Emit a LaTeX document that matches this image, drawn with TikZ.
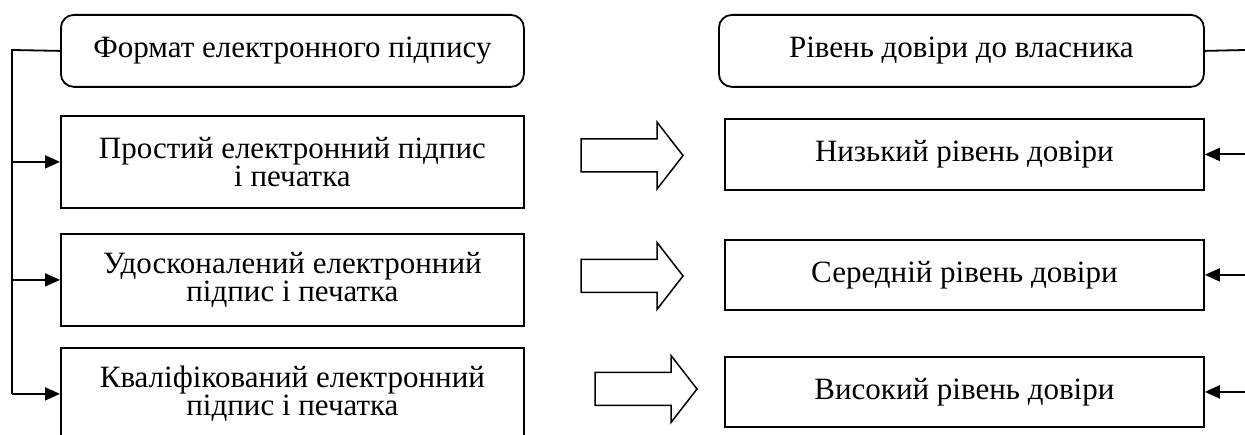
\documentclass[tikz,border=0pt]{standalone}
\usepackage{fontspec}
\setmainfont{Liberation Serif}
\usetikzlibrary{arrows.meta}
\begin{document}
\begin{tikzpicture}[x=1pt,y=-1pt,
  box/.style={draw, line width=1.8pt, align=center, inner sep=0pt, anchor=north west,
              font=\fontsize{31}{28}\selectfont},
  hbox/.style={box, rounded corners=13pt},
  wire/.style={line width=1.8pt},
  conn/.style={line width=1.8pt, -{Triangle[length=15pt,width=13pt]}},
  blockarrow/.style={draw, line width=1.5pt, line join=miter},
  barrow/.pic={\draw[blockarrow] (0,-16.5) -- (76,-16.5) -- (76,-33.5) -- (102,0) -- (76,33.5) -- (76,16.5) -- (0,16.5) -- cycle;}]
\useasboundingbox (0,0) rectangle (1245,435);
\clip (0,0) rectangle (1245,435);
% left column
\node[hbox, minimum width=463pt, minimum height=72pt] (fh) at (60,14) {Формат електронного підпису};
\node[box, minimum width=463pt, minimum height=92pt] (p1) at (60,115) {Простий електронний підпис\\і печатка};
\node[box, minimum width=463pt, minimum height=92pt] (p2) at (60,233) {Удосконалений електронний\\підпис і печатка};
\node[box, minimum width=463pt, minimum height=92pt] (p3) at (60,347) {Кваліфікований електронний\\підпис і печатка};
% right column
\node[hbox, minimum width=485pt, minimum height=72pt] (rh) at (718,14) {Рівень довіри до власника};
\node[box, minimum width=479pt, minimum height=71pt] (r1) at (724,118) {Низький рівень довіри};
\node[box, minimum width=479pt, minimum height=70pt] (r2) at (724,239) {Середній рівень довіри};
\node[box, minimum width=479pt, minimum height=70pt] (r3) at (724,356) {Високий рівень довіри};
% left bracket
\coordinate (c0) at (12,50);
\draw[wire] (fh.west) -- (c0) -- (c0 |- p3.west);
\draw[conn] (c0 |- p1.west) -- (p1.west);
\draw[conn] (c0 |- p2.west) -- (p2.west);
\draw[conn] (c0 |- p3.west) -- (p3.west);
% right bracket
\coordinate (re) at (1245,50);
\draw[wire] (rh.east) -- (re);
\draw[conn] (re |- r1.east) -- (r1.east);
\draw[conn] (re |- r2.east) -- (r2.east);
\draw[conn] (re |- r3.east) -- (r3.east);
% block arrows
\pic at (581,155.5) {barrow};
\pic at (581,276) {barrow};
\pic at (595,389) {barrow};
\end{tikzpicture}
\end{document}
